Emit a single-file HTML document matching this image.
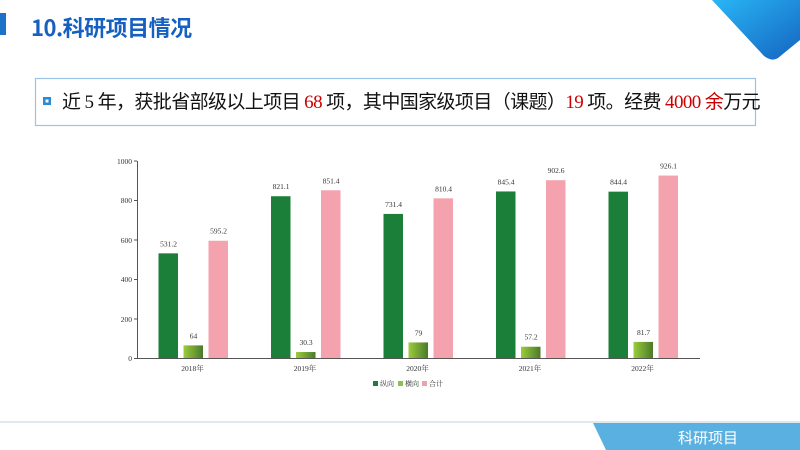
<!DOCTYPE html>
<html><head><meta charset="utf-8"><style>
body{margin:0;width:800px;height:450px;overflow:hidden;background:#fff;position:relative;font-family:"Liberation Sans","Noto Sans CJK SC",sans-serif}
</style></head><body>
<div style="position:absolute;left:0;top:13px;width:6px;height:22px;background:#1a73c8"></div>
<div style="position:absolute;left:31px;top:11px;font-size:22px;font-weight:bold;color:#1560c0;font-family:'Noto Sans CJK SC',sans-serif;letter-spacing:-0.5px">10.科研项目情况</div>
<svg style="position:absolute;left:0;top:0" width="800" height="450">
<defs><linearGradient id="g" x1="0" y1="0" x2="1" y2="1"><stop offset="0" stop-color="#29b6f6"/><stop offset="1" stop-color="#1565c0"/></linearGradient>
<linearGradient id="lg" x1="0" x2="1"><stop offset="0" stop-color="#9ccc3c"/><stop offset="1" stop-color="#4a7a2a"/></linearGradient></defs>
<path d="M712,0 L800,0 L800,40 L778,58 Q772,62 764,56 Z" fill="url(#g)"/>
<rect x="35.5" y="78.5" width="720" height="47" fill="#fff" stroke="#9cc3e6" stroke-width="1.2"/>
<rect x="43" y="97" width="8" height="8" fill="#2a8ad4"/><rect x="45.5" y="99.5" width="3" height="3" fill="#fff"/>
<line x1="0" y1="422" x2="800" y2="422" stroke="#dde9f0" stroke-width="2"/>
<path d="M593,423 L800,423 L800,450 L606,450 Z" fill="#5ab0e0"/>
<text x="708" y="443" fill="#fff" font-size="15" text-anchor="middle" font-family="Noto Sans CJK SC">科研项目</text>
<g font-family="Liberation Serif" font-size="7.5" fill="#333">
<line x1="137.5" y1="161" x2="137.5" y2="358" stroke="#555"/>
<line x1="137" y1="358.5" x2="700" y2="358.5" stroke="#555"/>
<g text-anchor="end">
<text x="132" y="361">0</text><text x="132" y="322">200</text><text x="132" y="282">400</text><text x="132" y="243">600</text><text x="132" y="203">800</text><text x="132" y="164">1000</text></g>
<g stroke="#555"><line x1="134" y1="358.5" x2="137" y2="358.5"/><line x1="134" y1="319" x2="137" y2="319"/><line x1="134" y1="279.5" x2="137" y2="279.5"/><line x1="134" y1="240" x2="137" y2="240"/><line x1="134" y1="200.5" x2="137" y2="200.5"/><line x1="134" y1="161" x2="137" y2="161"/></g>
</g>
<g id="bars" font-family="Liberation Serif" font-size="7.5" fill="#333" text-anchor="middle"></g>
<g font-family="Noto Serif CJK SC" font-size="7" fill="#333">
<rect x="373" y="381" width="5" height="5" fill="#1b7f3a"/><text x="380" y="386">纵向</text>
<rect x="398" y="381" width="5" height="5" fill="#8bc34a"/><text x="405" y="386">横向</text>
<rect x="422" y="381" width="5" height="5" fill="#f0a0aa"/><text x="429" y="386">合计</text>
</g>
</svg>
<div style="position:absolute;left:62px;top:87px;font-size:19px;color:#111;font-family:'Noto Sans CJK SC',sans-serif;white-space:nowrap;letter-spacing:-0.6px">近<span style="font-family:'Liberation Serif'"> 5 </span>年，获批省部级以上项目<span style="color:#c00;font-family:'Liberation Serif'"> 68 </span>项，其中国家级项目（课题）<span style="color:#c00;font-family:'Liberation Serif'">19 </span>项。经费<span style="color:#c00;font-family:'Liberation Serif'"> 4000 </span><span style="color:#c00">余</span>万元</div>
<script>
var d=[["2018",531.2,64,595.2],["2019",821.1,30.3,851.4],["2020",731.4,79,810.4],["2021",845.4,57.2,902.6],["2022",844.4,81.7,926.1]];
var s="",k=0.197,b=358;
d.forEach(function(r,i){var c=192.5+112.5*i;
var xs=[c-34,c-9,c+16],fs=["#1b7f3a","url(#lg)","#f4a3ae"];
for(var j=0;j<3;j++){var h=r[j+1]*k;s+='<rect x="'+xs[j]+'" y="'+(b-h)+'" width="19.5" height="'+h+'" fill="'+fs[j]+'"/>';
s+='<text x="'+(xs[j]+10)+'" y="'+(b-h-7)+'">'+r[j+1]+'</text>';}
s+='<text x="'+c+'" y="371">'+r[0]+'<tspan font-family="Noto Serif CJK SC">年</tspan></text>';});
document.getElementById("bars").innerHTML=s;
</script>
</body></html>
